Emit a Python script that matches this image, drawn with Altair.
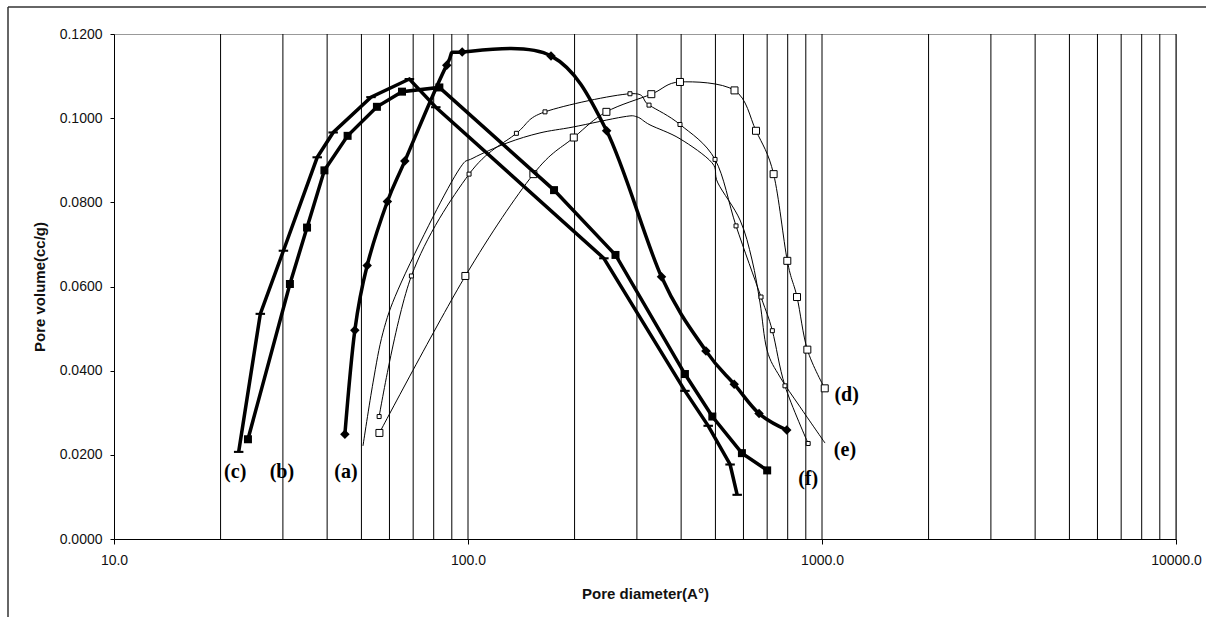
import altair as alt
import pandas as pd

# ---- data ----
a_x = [44.9, 47.9, 51.9, 59.2, 66.3, 87.1, 96.3, 171.6, 246.4, 352, 470, 565, 664, 795]
a_y = [0.0249, 0.0496, 0.0650, 0.0802, 0.0898, 0.1126, 0.1157, 0.1148, 0.0970, 0.0623, 0.0447, 0.0368, 0.0298, 0.0259]

b_x = [23.9, 31.4, 35.1, 39.3, 45.7, 55.3, 65.1, 83.0, 175, 261, 410, 490, 594, 700]
b_y = [0.0237, 0.0606, 0.0740, 0.0876, 0.0958, 0.1027, 0.1063, 0.1073, 0.0829, 0.0675, 0.0392, 0.0291, 0.0204, 0.0163]

c_x = [22.5, 25.9, 30.1, 37.5, 41.6, 53.2, 68.3, 81.1, 242, 410, 477, 550, 576]
c_y = [0.0207, 0.0535, 0.0685, 0.0907, 0.0966, 0.1050, 0.1093, 0.1026, 0.0667, 0.0352, 0.0269, 0.0177, 0.0105]

d_x = [56.2, 98.3, 153, 199, 246, 329.5, 397, 566, 651, 730, 798, 850, 909, 1018]
d_y = [0.0252, 0.0625, 0.0867, 0.0954, 0.1015, 0.1057, 0.1086, 0.1066, 0.0970, 0.0867, 0.0661, 0.0575, 0.0450, 0.0358]

e_x = [50.5, 53.9, 57.5, 63.4, 79.6, 95.0, 103.3, 128.9, 159.7, 198.1, 274.1, 300.3, 326.7,
       397.1, 489, 508, 586.7, 634.5, 668.3, 699.3, 761, 866.8, 1019.8]
e_y = [0.0221, 0.0371, 0.0490, 0.0592, 0.0765, 0.0882, 0.0905, 0.0941, 0.0965, 0.0979, 0.1003, 0.1003, 0.0984,
       0.0951, 0.0894, 0.0846, 0.0758, 0.0663, 0.0561, 0.0449, 0.0385, 0.0314, 0.0228]

f_x = [56.1, 69.2, 100.7, 137, 165, 286.8, 324.6, 397, 498.7, 571.7, 672.6, 724, 786, 914]
f_y = [0.0291, 0.0625, 0.0867, 0.0964, 0.1015, 0.1058, 0.1031, 0.0985, 0.0902, 0.0744, 0.0575, 0.0495, 0.0364, 0.0227]

label_text = ["(a)", "(b)", "(c)", "(d)", "(e)", "(f)"]
label_x = [45.2, 29.8, 22.0, 1174, 1161, 914]
label_y = [0.0159, 0.0159, 0.0159, 0.0341, 0.0211, 0.0143]

grid_x = [20, 30, 40, 50, 60, 70, 80, 90, 100, 200, 300, 400, 500, 600, 700, 800, 900,
          1000, 2000, 3000, 4000, 5000, 6000, 7000, 8000, 9000, 10000]
x_ticks = [10, 100, 1000, 10000]
y_ticks = [0.0, 0.02, 0.04, 0.06, 0.08, 0.10, 0.12]

W, H = 1062, 505

xscale = alt.Scale(type="log", domain=[10, 10000], nice=False)
yscale = alt.Scale(domain=[0, 0.12], nice=False)

X = alt.X("d:Q", scale=xscale,
          axis=alt.Axis(values=x_ticks, format=".1f", title="Pore diameter(A°)", grid=False,
                        labelFontSize=14, labelFont="Liberation Sans", labelColor="#111",
                        tickSize=5, tickColor="black", domainColor="black", labelPadding=9,
                        titleFont="Liberation Sans", titleFontSize=15, titleFontWeight="bold",
                        titleColor="#111", titlePadding=19, labelFlush=False))
Y = alt.Y("v:Q", scale=yscale,
          axis=alt.Axis(values=y_ticks, format=".4f", title="Pore volume(cc/g)", grid=False,
                        labelFontSize=14, labelFont="Liberation Sans", labelColor="#111",
                        tickSize=4, tickColor="black", domainColor="black", labelPadding=8,
                        titleFont="Liberation Sans", titleFontSize=15, titleFontWeight="bold",
                        titleColor="#111", titlePadding=12))


def frame(xs, ys):
    return pd.DataFrame({"d": xs, "v": ys})


grid = alt.Chart(pd.DataFrame({"d": grid_x})).mark_rule(color="black", strokeWidth=1).encode(x=X)

layers = [grid]


def series(xs, ys, width, interp, shape=None, size=None, filled=True):
    base = alt.Chart(frame(xs, ys))
    out = [base.mark_line(color="black", strokeWidth=width, interpolate=interp).encode(x=X, y=Y)]
    if shape is not None:
        if filled:
            pt = base.mark_point(shape=shape, size=size, filled=True, color="black", opacity=1)
        else:
            pt = base.mark_point(shape=shape, size=size, filled=True, fill="white",
                                 stroke="black", strokeWidth=1, opacity=1)
        out.append(pt.encode(x=X, y=Y))
    return out


dash = "M-1,-0.22H1V0.22H-1Z"
layers += series(e_x, e_y, 1, "cardinal")
layers += series(f_x, f_y, 1, "cardinal", "square", 16, filled=False)
layers += series(d_x, d_y, 1, "cardinal", "square", 49, filled=False)
layers += series(c_x, c_y, 3.5, "linear", dash, 90)
layers += series(b_x, b_y, 3.5, "linear", "square", 64)
layers += series(a_x, a_y, 3.5, "cardinal", "diamond", 90)

labels = alt.Chart(pd.DataFrame({"d": label_x, "v": label_y, "t": label_text})).mark_text(
    font="Liberation Serif", fontWeight="bold", fontSize=20, color="black",
    align="center", baseline="middle").encode(x=X, y=Y, text="t:N")
layers.append(labels)

one = pd.DataFrame({"k": [0]})
frame_top = alt.Chart(one).mark_rule(color="#333", strokeWidth=1.5).encode(
    x=alt.value(-106), x2=alt.value(1300), y=alt.value(-27))
frame_left = alt.Chart(one).mark_rule(color="#333", strokeWidth=1.5).encode(
    x=alt.value(-106), y=alt.value(-27), y2=alt.value(700))
layers += [frame_top, frame_left]

chart = alt.layer(*layers).properties(
    width=W, height=H,
    autosize=alt.AutoSizeParams(type="none"),
    padding={"left": 114, "top": 34, "right": 30, "bottom": 78},
    background="white",
).configure_view(stroke="#999", strokeWidth=1)

chart.save("out.html", embed_options={"renderer": "svg", "actions": False})
